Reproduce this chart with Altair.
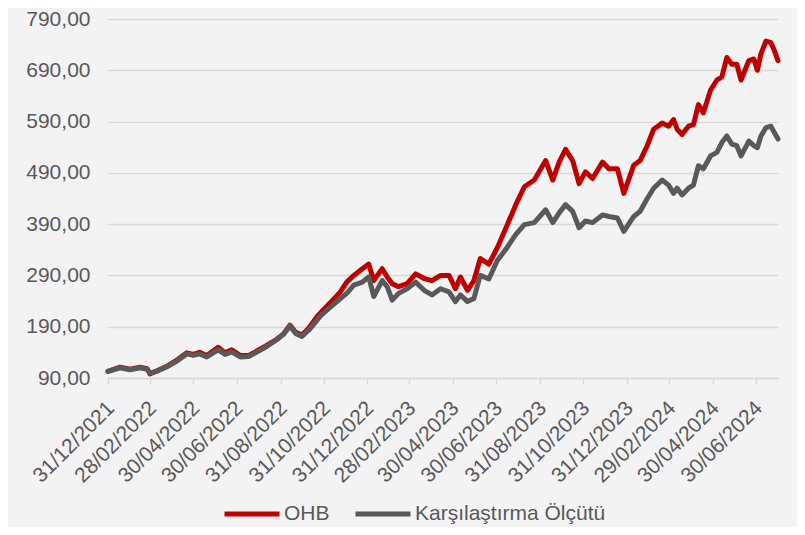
import altair as alt
import pandas as pd

# --- data ---
dates = [
    "2021-12-31", "2022-01-17", "2022-01-31", "2022-02-14", "2022-02-24", "2022-02-28",
    "2022-03-10", "2022-03-24", "2022-04-07", "2022-04-21", "2022-04-30", "2022-05-09",
    "2022-05-19", "2022-06-04", "2022-06-14", "2022-06-23", "2022-07-05", "2022-07-17",
    "2022-07-29", "2022-08-12", "2022-08-26", "2022-09-04", "2022-09-13", "2022-09-21",
    "2022-09-30", "2022-10-10", "2022-10-22", "2022-10-26", "2022-11-09", "2022-11-23",
    "2022-12-02", "2022-12-12", "2022-12-24", "2023-01-02", "2023-01-09", "2023-01-21",
    "2023-01-28", "2023-02-04", "2023-02-13", "2023-02-25", "2023-03-09", "2023-03-21",
    "2023-04-01", "2023-04-13", "2023-04-25", "2023-05-04", "2023-05-11", "2023-05-21",
    "2023-05-30", "2023-06-08", "2023-06-20", "2023-07-02", "2023-07-16", "2023-07-28",
    "2023-08-09", "2023-08-23", "2023-09-08", "2023-09-18", "2023-09-27", "2023-10-06",
    "2023-10-16", "2023-10-25", "2023-11-03", "2023-11-13", "2023-11-27", "2023-12-06",
    "2023-12-18", "2023-12-27", "2024-01-10", "2024-01-19", "2024-01-29", "2024-02-07",
    "2024-02-19", "2024-02-28", "2024-03-06", "2024-03-11", "2024-03-18", "2024-03-27",
    "2024-04-03", "2024-04-10", "2024-04-17", "2024-04-27", "2024-05-06", "2024-05-13",
    "2024-05-20", "2024-05-27", "2024-06-03", "2024-06-09", "2024-06-20", "2024-06-27",
    "2024-07-02", "2024-07-07", "2024-07-14", "2024-07-21", "2024-07-26", "2024-07-31",
]
ohb = [
    103, 111, 107, 111, 108, 98,
    104, 113, 125, 139, 136, 140,
    134, 150, 139, 145, 134, 134,
    143, 154, 166, 176, 193, 179,
    174, 188, 211, 217, 237, 258,
    277, 290, 303, 312, 280, 303,
    287, 274, 268, 274, 293, 284,
    280, 290, 290, 264, 287, 261,
    280, 323, 312, 344, 389, 428,
    463, 476, 514, 476, 511, 536,
    514, 469, 492, 479, 511, 498,
    498, 450, 505, 514, 543, 575,
    587, 581, 594, 575, 565, 581,
    584, 623, 607, 651, 671, 677,
    715, 702, 702, 671, 709, 712,
    690, 722, 747, 744, 728, 709,
]
bench = [
    103, 110, 106, 110, 107, 100,
    103, 112, 123, 137, 134, 137,
    131, 145, 136, 141, 131, 132,
    141, 152, 165, 175, 192, 177,
    171, 184, 204, 211, 228, 245,
    255, 271, 277, 287, 249, 280,
    268, 242, 255, 264, 277, 261,
    252, 264, 258, 239, 252, 239,
    245, 290, 283, 319, 345, 370,
    389, 393, 418, 393, 412, 428,
    415, 383, 396, 393, 408, 405,
    402, 376, 405, 415, 440, 460,
    476, 466, 450, 460, 447, 460,
    466, 504, 498, 523, 530, 549,
    562, 546, 543, 523, 552, 543,
    539, 562, 578, 581, 568, 556,
]
series_names = ["OHB", "Karşılaştırma Ölçütü"]
series_colors = ["#C00000", "#595959"]
x_tick_dates = [
    "2021-12-31", "2022-02-28", "2022-04-30", "2022-06-30", "2022-08-31",
    "2022-10-31", "2022-12-31", "2023-02-28", "2023-04-30", "2023-06-30",
    "2023-08-31", "2023-10-31", "2023-12-31", "2024-02-29", "2024-04-30",
    "2024-06-30",
]
y_ticks = [90, 190, 290, 390, 490, 590, 690, 790]
x_domain = ["2021-12-31", "2024-07-31"]


def ms(d):
    return int(pd.Timestamp(d, tz="UTC").value // 10**6)


n = len(dates)
df = pd.DataFrame({
    "date": [ms(d) for d in dates] * 2,
    "value": ohb + bench,
    "series": [series_names[0]] * n + [series_names[1]] * n,
    "order": [0] * n + [1] * n,
})

FONT = "Liberation Sans"
TXT = "#595959"
GRID = "#D9D9D9"

x_enc = alt.X(
    "date:T",
    scale=alt.Scale(type="utc", domain=[ms(d) for d in x_domain], nice=False),
    axis=alt.Axis(
        title=None,
        values=[ms(d) for d in x_tick_dates],
        labelExpr="utcFormat(datum.value, '%d/%m/%Y')",
        labelAngle=-45,
        labelFont=FONT,
        labelFontSize=21,
        labelColor=TXT,
        labelPadding=13,
        labelOffset=-5,
        labelOverlap=False,
        labelBound=False,
        labelFlush=False,
        grid=False,
        domainColor=GRID,
        domainWidth=1.5,
        tickColor=GRID,
        tickWidth=1.5,
        tickSize=6,
    ),
)
y_enc = alt.Y(
    "value:Q",
    scale=alt.Scale(domain=[90, 790], nice=False, zero=False),
    axis=alt.Axis(
        title=None,
        values=y_ticks,
        labelExpr="replace(format(datum.value, '.2f'), '.', ',')",
        labelFont=FONT,
        labelFontSize=21,
        labelColor=TXT,
        labelPadding=18,
        labelFlush=False,
        ticks=False,
        domain=False,
        grid=True,
        gridColor=GRID,
        gridWidth=1.5,
    ),
)
color_enc = alt.Color(
    "series:N",
    scale=alt.Scale(domain=series_names, range=series_colors),
    legend=alt.Legend(
        title=None,
        orient="none",
        direction="horizontal",
        legendX=114,
        legendY=465,
        symbolType="stroke",
        symbolSize=3025,
        symbolStrokeWidth=5,
        labelFont=FONT,
        labelFontSize=21,
        labelColor=TXT,
        labelOffset=2,
        labelLimit=0,
        columnPadding=15,
    ),
)

base = alt.Chart(df).mark_line(strokeWidth=5, strokeJoin="round", strokeCap="round")

red = base.transform_filter(alt.datum.order == 0).encode(x=x_enc, y=y_enc, color=color_enc)
gray = base.transform_filter(alt.datum.order == 1).encode(x=x_enc, y=y_enc, color=color_enc)

chart = (
    alt.layer(red, gray)
    .properties(
        width=670,
        height=359,
        background="#F3F3F4",
        padding={"left": 100, "top": 11, "right": 19, "bottom": 149},
        autosize=alt.AutoSizeParams(type="none"),
    )
    .configure_view(stroke=None)
)

chart.save("out.html", embed_options={"renderer": "svg", "actions": False})
